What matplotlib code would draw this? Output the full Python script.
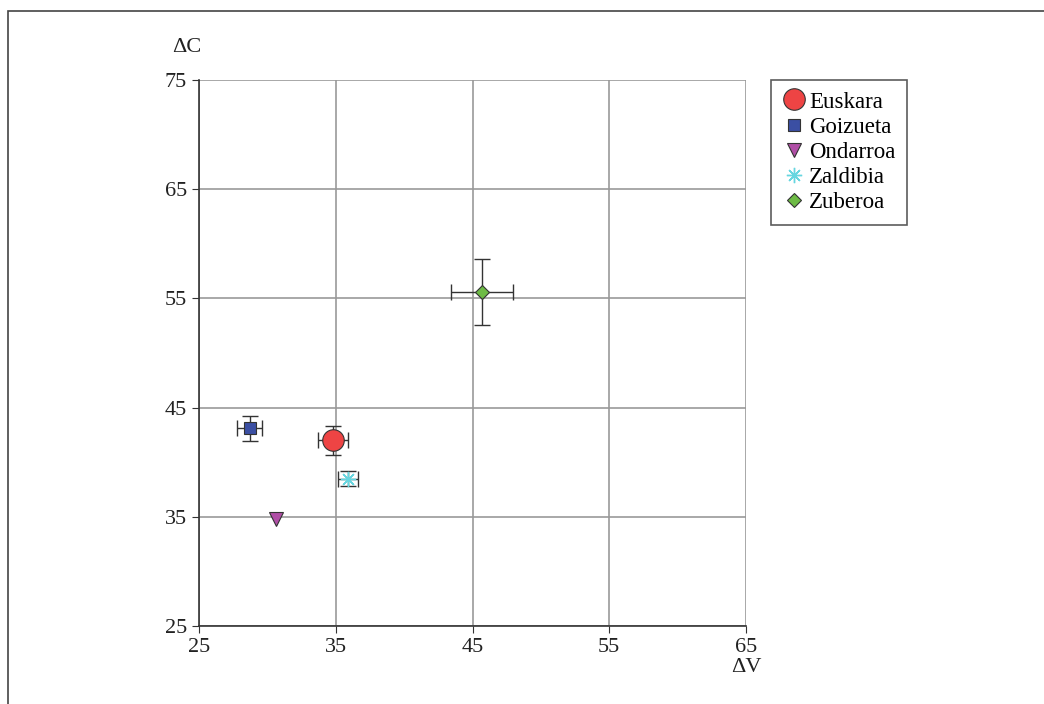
import matplotlib
matplotlib.use("Agg")
import matplotlib.pyplot as plt
from matplotlib.patches import Rectangle

names = ["Euskara", "Goizueta", "Ondarroa", "Zaldibia", "Zuberoa"]
dv = [34.8, 28.7, 30.6, 35.9, 45.7]
dc = [42.0, 43.1, 34.8, 38.5, 55.6]
dv_err = [1.1, 0.9, 0.0, 0.75, 2.25]
dc_err = [1.3, 1.15, 0.0, 0.65, 3.0]
xticks = [25, 35, 45, 55, 65]
yticks = [25, 35, 45, 55, 65, 75]

markers = ["o", "s", "v", "*", "D"]
colors = ["#EE4444", "#3B4FA3", "#B04EA6", "#66D6E0", "#6DBB45"]
sizes = [15.5, 8.5, 10, 11, 7]

plt.rcParams["font.family"] = ["Liberation Serif", "DejaVu Serif"]

fig = plt.figure(figsize=(10.44, 7.04), dpi=100)
fig.patches.append(Rectangle((8/1044, -0.1), 1.2, 1 - 11/704 + 0.1,
                             transform=fig.transFigure, fill=False,
                             edgecolor="#444444", lw=1.2))
ax = fig.add_axes([199/1044, 1 - 626/704, 547/1044, 546/704])

for i, n in enumerate(names):
    if dv_err[i] > 0 or dc_err[i] > 0:
        ax.errorbar(dv[i], dc[i], xerr=dv_err[i], yerr=dc_err[i], fmt="none",
                    ecolor="#333333", elinewidth=1.0, capsize=6, capthick=1.0, zorder=3)
    mk = markers[i]
    if mk == "*":
        ax.plot(dv[i], dc[i], marker=(8, 2, 0), ms=sizes[i], color=colors[i],
                mew=1.0, linestyle="none", label=n, zorder=4)
    else:
        ax.plot(dv[i], dc[i], marker=mk, ms=sizes[i], mfc=colors[i], mec="#333333",
                mew=0.8, linestyle="none", label=n, zorder=4)

ax.set_xlim(25, 65)
ax.set_ylim(25, 75)
ax.set_xticks(xticks)
ax.set_yticks(yticks)
ax.grid(True, color="#999999", lw=1.2)
ax.set_axisbelow(True)
for s in ["top", "right"]:
    ax.spines[s].set_visible(False)
for s in ["left", "bottom"]:
    ax.spines[s].set_color("#333333")
    ax.spines[s].set_linewidth(1.2)
ax.tick_params(axis="both", labelsize=16, length=5, color="#333333", labelcolor="#222222")

fig.text(187/1044, 1 - 47/704, "ΔC", fontsize=16, ha="center", va="center", color="#222222")
fig.text(746/1044, 1 - 668/704, "ΔV", fontsize=16, ha="center", va="center", color="#222222")

leg = ax.legend(loc="upper left", bbox_to_anchor=(771/1044, 1 - 80/704),
                bbox_transform=fig.transFigure, fontsize=16.5, frameon=True,
                fancybox=False, edgecolor="#333333", handlelength=1.0,
                handletextpad=0.15, borderpad=0.5, labelspacing=0.18,
                markerscale=1.0, borderaxespad=0)
leg.get_frame().set_linewidth(1.2)

fig.savefig("out.png", dpi=100)
